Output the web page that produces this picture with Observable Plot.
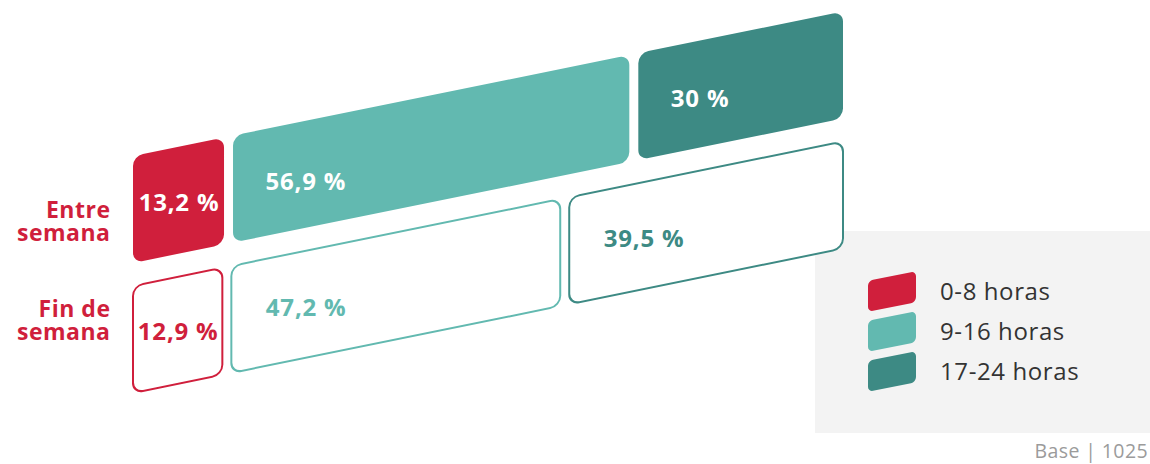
<!DOCTYPE html>
<html><head><meta charset="utf-8">
<script src="https://cdn.jsdelivr.net/npm/d3@7"></script>
<script src="https://cdn.jsdelivr.net/npm/@observablehq/plot@0.6"></script>
<style>
html,body{margin:0;padding:0;background:#fff;}
#wrap{position:relative;width:1150px;height:464px;overflow:hidden;font-family:"Open Sans",sans-serif;}
#legendbox{position:absolute;left:815px;top:231px;width:335px;height:202px;background:#f3f3f3;}
#chart{position:absolute;left:0;top:0;}
#legend{position:absolute;left:868px;top:271px;}
.item{display:flex;align-items:center;height:40px;}
.sw{width:48px;height:31px;border-radius:5px;transform:skewY(-11.5deg);margin-right:24px;flex:none;}
.lab{font-size:24px;color:#333;letter-spacing:0.6px;line-height:28px;}
#base{position:absolute;right:2px;top:438px;font-size:19.5px;color:#9b9b9b;line-height:26px;letter-spacing:0.4px;}
</style></head>
<body>
<div id="wrap">
  <div id="legendbox"></div>
  <div id="chart"></div>
  <div id="legend"></div>
  <div id="base"></div>
</div>
<script>
const rows = ["Entre semana", "Fin de semana"];
const rowLabels = ["Entre\nsemana", "Fin de\nsemana"];
const segments = ["0-8 horas", "9-16 horas", "17-24 horas"];
const colors = ["#d01f3c", "#62b9b0", "#3d8a84"];
const entreSemana = [13.2, 56.9, 30];
const finDeSemana = [12.9, 47.2, 39.5];
const baseLabel = "Base | 1025";

const series = [entreSemana, finDeSemana];
const data = rows.flatMap((row, i) => segments.map((seg, j) => ({row, seg, value: series[i][j]})));
const rowData = rows.map((row, i) => ({row, label: rowLabels[i]}));
const fmt = d => String(d.value).replace(".", ",") + " %";
const SKEW = 11.5;
const isEntre = d => d.row === rows[0];
const isFirst = d => d.seg === segments[0];
const stackMid = o => Plot.stackX({x: "value", y: "row", offset: "normalize", ...o});
const stackStart = o => Plot.stackX1({x: "value", y: "row", offset: "normalize", ...o});
const labelStyle = {text: fmt, fontSize: 24, fontWeight: 700};
const filled = {fill: "seg", insetRight: 9, rx: 10};
const outlined = {fill: "white", stroke: "seg", strokeWidth: 2, insetRight: 9, rx: 10};
const rowStyle = {x: () => 0, y: "row", text: "label", textAnchor: "end", dx: -29, fill: colors[0], fontSize: 23, fontWeight: 700, lineHeight: 1};

const svg = Plot.plot({
  width: 1150,
  height: 464,
  margin: 0,
  style: {background: "transparent", fontFamily: "'Open Sans', sans-serif"},
  x: {domain: [0, 1], range: [139, 852], axis: null},
  y: {domain: rows, range: [183, 420], paddingInner: 0.177, paddingOuter: 0, axis: null},
  color: {domain: segments, range: colors},
  marks: [
    Plot.barX(data, Plot.filter(d => isEntre(d) && isFirst(d), stackMid({...filled, insetLeft: -6}))),
    Plot.barX(data, Plot.filter(d => isEntre(d) && !isFirst(d), stackMid(filled))),
    Plot.barX(data, Plot.filter(d => !isEntre(d) && isFirst(d), stackMid({...outlined, insetLeft: -6}))),
    Plot.barX(data, Plot.filter(d => !isEntre(d) && !isFirst(d), stackMid(outlined))),
    Plot.text(data, Plot.filter(d => isEntre(d) && isFirst(d), stackMid({...labelStyle, fill: "white", dx: -7.5, dy: 3}))),
    Plot.text(data, Plot.filter(d => isEntre(d) && !isFirst(d), stackStart({...labelStyle, fill: "white", textAnchor: "start", dx: 32, dy: -1}))),
    Plot.text(data, Plot.filter(d => !isEntre(d) && isFirst(d), stackMid({...labelStyle, fill: "seg", dx: -7.5, dy: 2}))),
    Plot.text(data, Plot.filter(d => !isEntre(d) && !isFirst(d), stackStart({...labelStyle, fill: "seg", textAnchor: "start", dx: 34, dy: -5}))),
    Plot.text(rowData.slice(0, 1), {...rowStyle, dy: -15}),
    Plot.text(rowData.slice(1, 2), {...rowStyle, dy: -46})
  ]
});

// skew the bars and value labels; keep label glyphs upright
const groups = Array.from(svg.children).filter(n => n.tagName.toLowerCase() === "g");
groups.slice(0, 8).forEach((g, gi) => {
  const t = g.getAttribute("transform") || "";
  g.setAttribute("transform", `skewY(${-SKEW}) ${t}`);
  if (gi >= 4) {
    g.setAttribute("letter-spacing", "0.8");
    g.querySelectorAll("text").forEach(el => {
      const tt = el.getAttribute("transform") || "";
      const m = tt.match(/translate\(\s*([-\d.e]+)[\s,]+([-\d.e]+)\s*\)/);
      let X, Y;
      if (m) { X = +m[1]; Y = +m[2]; }
      else { X = +(el.getAttribute("x") || 0); Y = +(el.getAttribute("y") || 0); }
      el.setAttribute("transform", `translate(${X},${Y}) skewY(${SKEW}) translate(${-X},${-Y}) ${tt}`);
    });
  }
});
groups.slice(8).forEach(g => g.setAttribute("letter-spacing", "0.5"));
document.getElementById("chart").appendChild(svg);

const legend = document.getElementById("legend");
segments.forEach((s, i) => {
  const item = document.createElement("div");
  item.className = "item";
  const sw = document.createElement("div");
  sw.className = "sw";
  sw.style.background = colors[i];
  const lab = document.createElement("span");
  lab.className = "lab";
  lab.textContent = s;
  item.appendChild(sw);
  item.appendChild(lab);
  legend.appendChild(item);
});
document.getElementById("base").textContent = baseLabel;
</script>
</body></html>
